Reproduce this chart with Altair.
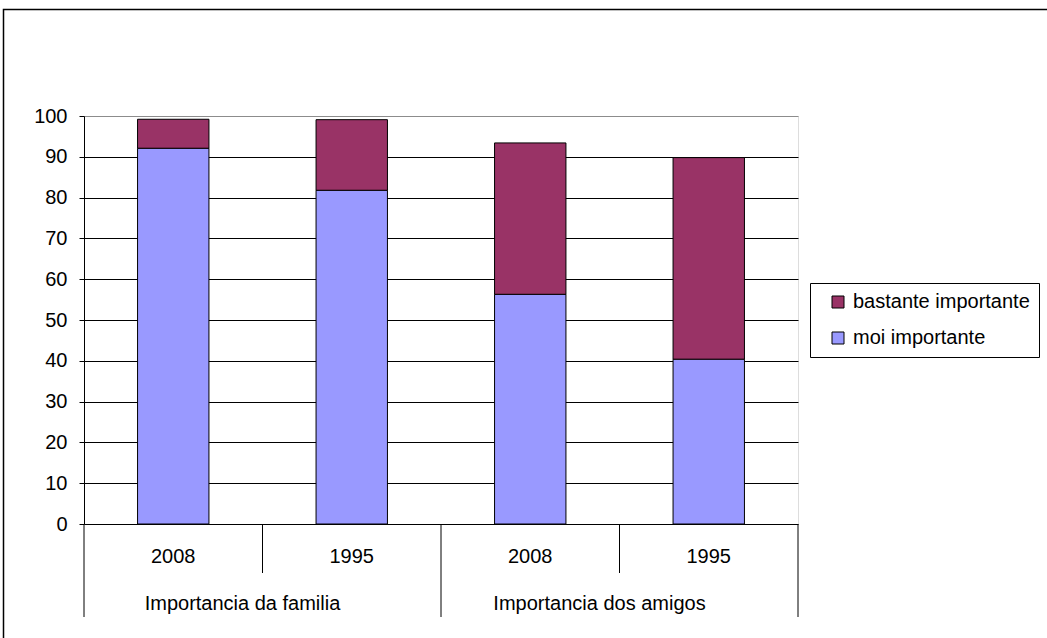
import altair as alt
import pandas as pd

groups = ["Importancia da familia", "Importancia da familia", "Importancia dos amigos", "Importancia dos amigos"]
years = ["2008", "1995", "2008", "1995"]
moi = [92.1, 81.8, 56.3, 40.4]
bastante = [7.1, 17.3, 37.1, 49.4]
series = ["bastante importante", "moi importante"]
colors = ["#993366", "#9999FF"]
y_ticks = list(range(0, 101, 10))

keys = [f"{g} {y}" for g, y in zip(groups, years)]
rows = []
for k, g, yr, m, b in zip(keys, groups, years, moi, bastante):
    rows.append(dict(key=k, group=g, year=yr, serie="moi importante", value=m, ord=0))
    rows.append(dict(key=k, group=g, year=yr, serie="bastante importante", value=b, ord=1))
df = pd.DataFrame(rows)
cats = pd.DataFrame({"key": keys, "year": years, "group": groups})
grp = cats.drop_duplicates("group")
short_sep = cats.iloc[[1, 3]]
long_sep = cats.iloc[[0, 2]]
end_sep = cats.iloc[[3]]

FONT = "Liberation Sans"
FS = 20
W, H = 714, 408

x_scale = alt.Scale(domain=keys, paddingInner=0, paddingOuter=0)


def xk(bp=None):
    kw = dict(scale=x_scale, sort=keys, axis=None)
    if bp is not None:
        kw["bandPosition"] = bp
    return alt.X("key:N", **kw)


bars = alt.Chart(df).mark_bar(width={"band": 0.4}, stroke="black", strokeWidth=1).encode(
    x=alt.X("key:N", scale=x_scale, sort=keys,
            axis=alt.Axis(labels=False, ticks=False, title=None, grid=False,
                          domainColor="black", domainWidth=1)),
    y=alt.Y("value:Q", stack="zero",
            scale=alt.Scale(domain=[0, 100], nice=False),
            axis=alt.Axis(values=y_ticks, title=None, grid=True,
                          gridColor={"condition": {"test": "datum.value == 100", "value": "#8c8c8c"}, "value": "black"},
                          gridWidth=1, domainColor="black", tickColor="black",
                          tickSize=5, labelFontSize=FS, labelColor="black",
                          labelFont=FONT, labelPadding=12)),
    color=alt.Color("serie:N", scale=alt.Scale(domain=series, range=colors),
                    legend=alt.Legend(title=None, orient="none", legendX=726, legendY=167,
                                      strokeColor="black", fillColor="white", padding=9,
                                      symbolOffset=9, symbolType="square", symbolSize=144,
                                      symbolStrokeColor="black", symbolStrokeWidth=1,
                                      labelFontSize=FS, labelFont=FONT, labelColor="black",
                                      labelLimit=0, rowPadding=16, labelOffset=5)),
    order=alt.Order("ord:Q"),
)

year_text = alt.Chart(cats).mark_text(fontSize=FS, font=FONT, color="black", baseline="middle").encode(
    x=xk(0.5), y=alt.value(441), text="year:N")

group_text = alt.Chart(grp).mark_text(fontSize=FS, font=FONT, color="black", baseline="middle", dx=-20).encode(
    x=xk(1), y=alt.value(488), text="group:N")

short_rules = alt.Chart(short_sep).mark_rule(color="black", strokeWidth=1).encode(
    x=xk(0), y=alt.value(H), y2=alt.value(457))
long_rules = alt.Chart(long_sep).mark_rule(color="black", strokeWidth=1).encode(
    x=xk(0), y=alt.value(H), y2=alt.value(501))
end_rules = alt.Chart(end_sep).mark_rule(color="black", strokeWidth=1).encode(
    x=xk(1), y=alt.value(H), y2=alt.value(501))

frame = alt.Chart(cats.iloc[[0]]).mark_rect(fill=None, stroke="black", strokeWidth=1.5).encode(
    x=alt.value(-80.5), y=alt.value(-106.5), x2=alt.value(1047 - 84 + 10), y2=alt.value(638 - 116 + 10))

chart = alt.layer(frame, bars, year_text, group_text, short_rules, long_rules, end_rules).properties(
    width=W, height=H,
    autosize=alt.AutoSizeParams(type="none"),
    padding={"left": 84, "top": 116, "right": 1047 - 84 - W, "bottom": 638 - 116 - H},
    background="white",
).configure_view(stroke="#8c8c8c", strokeWidth=1).configure(font=FONT)

chart.save("out.html", embed_options={"renderer": "svg", "actions": False})
